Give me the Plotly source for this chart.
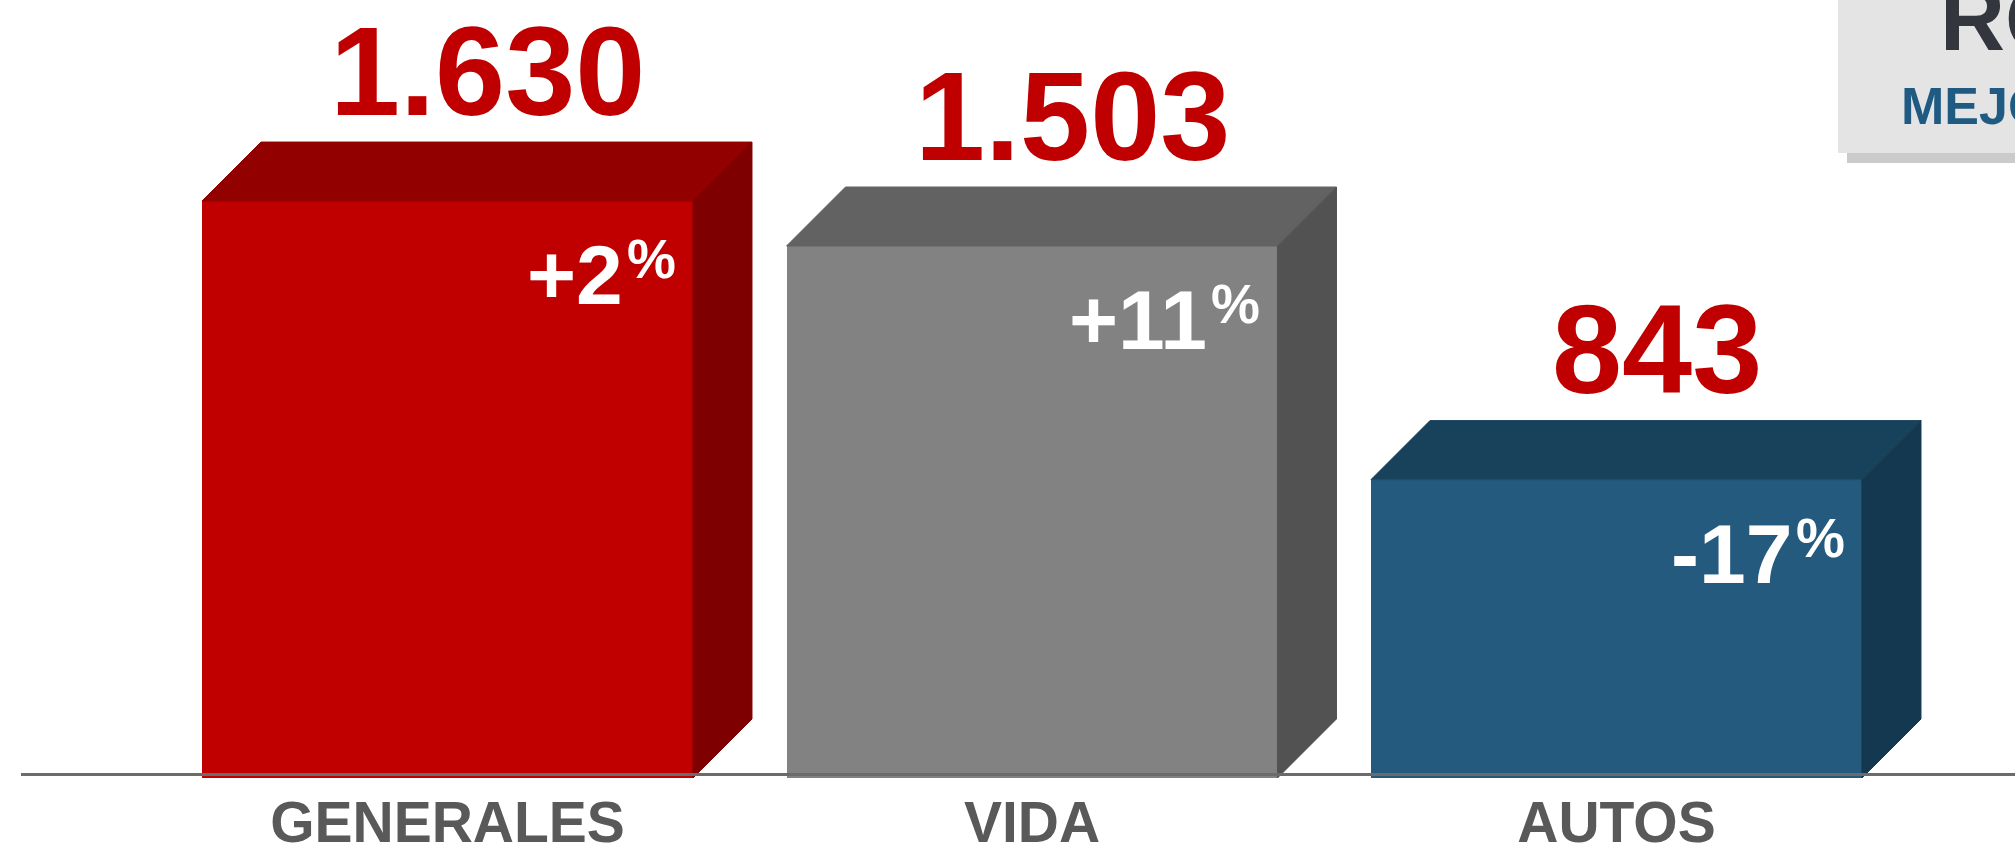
import plotly.graph_objects as go

# ---------------- data ----------------
categories = ["GENERALES", "VIDA", "AUTOS"]
values = [1630, 1503, 843]
value_labels = ["1.630", "1.503", "843"]
change_labels = ["+2", "+11", "-17"]
change_suffix = ["%", "%", "%"]

# ---------------- styles ----------------
front_colors = ["#c00000", "#828282", "#235a7e"]
top_colors = ["#920000", "#626262", "#18415c"]
side_colors = ["#7f0000", "#525252", "#13384f"]
FONT = "Liberation Sans, Arial, sans-serif"

W, H = 2015, 854
MB = 76
PLOT_H = H - MB
X_RANGE = [-0.7656, 2.6818]
Y_MAX = 2198
BAR_W = 0.84
PX_PER_X = W / (X_RANGE[1] - X_RANGE[0])
PX_PER_Y = PLOT_H / Y_MAX
DEPTH = 59
DX = DEPTH / PX_PER_X
DY = DEPTH / PX_PER_Y

xs = list(range(len(categories)))

fig = go.Figure()
fig.add_trace(go.Bar(
    x=xs, y=values, width=BAR_W,
    marker=dict(color=front_colors, line=dict(width=0)),
    hoverinfo="skip", showlegend=False,
))

for x, v, tc, sc in zip(xs, values, top_colors, side_colors):
    l, r = x - BAR_W / 2, x + BAR_W / 2
    fig.add_trace(go.Scatter(
        x=[l, l + DX, r + DX, r, l], y=[v, v + DY, v + DY, v, v],
        fill="toself", fillcolor=tc, mode="lines",
        line=dict(color=tc, width=1), hoverinfo="skip", showlegend=False,
    ))
    fig.add_trace(go.Scatter(
        x=[r, r + DX, r + DX, r, r], y=[0, DY, v + DY, v, 0],
        fill="toself", fillcolor=sc, mode="lines",
        line=dict(color=sc, width=1), hoverinfo="skip", showlegend=False,
    ))

annotations = []
for x, v, lab, ch, suf in zip(xs, values, value_labels, change_labels, change_suffix):
    r = x + BAR_W / 2
    annotations.append(dict(
        x=x + DX / 2, y=v + DY, xref="x", yref="y", text=lab, showarrow=False,
        xanchor="center", yanchor="middle", xshift=11, yshift=71,
        font=dict(family=FONT, size=126, color="#c00000", weight="bold"),
    ))
    annotations.append(dict(
        x=r, y=v, xref="x", yref="y", text=ch, showarrow=False,
        xanchor="right", yanchor="middle", xshift=-68, yshift=-74,
        font=dict(family=FONT, size=84, color="#ffffff", weight="bold"),
    ))
    annotations.append(dict(
        x=r, y=v, xref="x", yref="y", text=suf, showarrow=False,
        xanchor="left", yanchor="middle", xshift=-68, yshift=-58,
        font=dict(family=FONT, size=55, color="#ffffff", weight="bold"),
    ))


def py(p):
    """pixel row -> paper y"""
    return (PLOT_H - p) / PLOT_H


def px(p):
    return p / W


# title box at top right (partially off page, as in the source slide)
annotations.append(dict(
    x=px(1938), y=py(71), xref="paper", yref="paper", text="ROE", showarrow=False,
    xanchor="left", yanchor="bottom",
    font=dict(family=FONT, size=90, color="#33363d", weight="bold"),
))
annotations.append(dict(
    x=px(1899), y=py(137), xref="paper", yref="paper", text="MEJORA", showarrow=False,
    xanchor="left", yanchor="bottom",
    font=dict(family=FONT, size=52, color="#1f5a82", weight="bold"),
))

shapes = [
    dict(type="rect", xref="paper", yref="paper", x0=px(1847), x1=px(2100),
         y0=py(163), y1=py(-20), fillcolor="#cbcbcb", line=dict(width=0), layer="below"),
    dict(type="rect", xref="paper", yref="paper", x0=px(1838), x1=px(2100),
         y0=py(153), y1=py(-20), fillcolor="#e4e4e4", line=dict(width=0), layer="below"),
    dict(type="line", xref="paper", yref="paper", x0=px(21), x1=1.0,
         y0=py(774.5), y1=py(774.5), line=dict(color="#6b6b6b", width=3), layer="above"),
]

fig.update_layout(
    width=W, height=H,
    margin=dict(l=0, r=0, t=0, b=MB, pad=0),
    paper_bgcolor="white", plot_bgcolor="white",
    showlegend=False, bargap=0,
    annotations=annotations, shapes=shapes,
    xaxis=dict(
        range=X_RANGE, tickvals=xs, ticktext=categories,
        showgrid=False, zeroline=False, showline=False, ticks="", ticklen=0,
        ticklabelstandoff=6, automargin=False, fixedrange=True,
        tickfont=dict(family=FONT, size=57, color="#595959", weight="bold"),
    ),
    yaxis=dict(
        range=[0, Y_MAX], visible=False, showgrid=False, zeroline=False,
        automargin=False, fixedrange=True,
    ),
)

fig.write_html(
    "out.html",
    config={"displayModeBar": False},
    post_script="document.body.style.margin='0';document.body.style.overflow='hidden';",
)
